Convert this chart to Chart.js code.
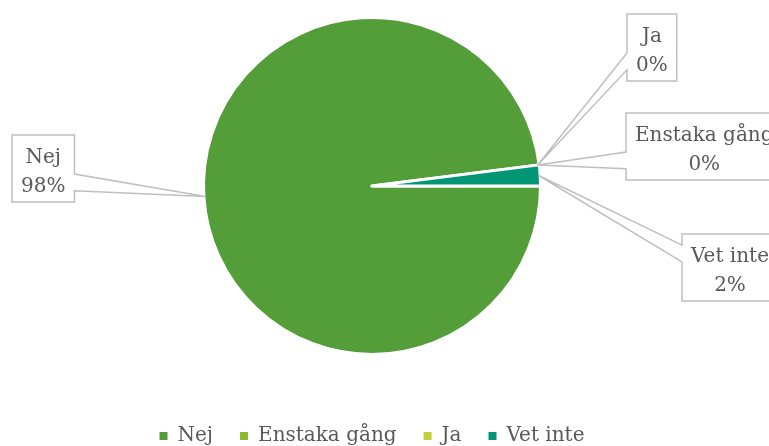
<!DOCTYPE html>
<html>
<head>
<meta charset="utf-8">
<script src="https://cdn.jsdelivr.net/npm/chart.js@4.4.1/dist/chart.umd.min.js"></script>
<style>
  html, body { margin: 0; padding: 0; background: #ffffff; }
  #wrap { width: 769px; height: 446px; }
</style>
</head>
<body>
<div id="wrap"><canvas id="pie-canvas"></canvas></div>
<script>
const categories = ['Nej', 'Enstaka gång', 'Ja', 'Vet inte'];
const shares = [98, 0, 0, 2];
const sliceColors = ['#549e39', '#8ab833', '#c0cf3a', '#029676'];

const textColor = '#595959';
const fontFamily = '"DejaVu Serif", "Liberation Serif", serif';
const fontSize = 20;

// callout boxes (top-left corners), same order as categories
const calloutBoxes = [
  { x: 12, y: 135 },
  { x: 626, y: 113 },
  { x: 627, y: 14 },
  { x: 682, y: 234 }
];

// Draws the Excel style callouts (box + wedge pointing at the slice)
const calloutPlugin = {
  id: 'callouts',
  afterDatasetsDraw(chart) {
    const { ctx } = chart;
    const meta = chart.getDatasetMeta(0);
    const total = shares.reduce((a, b) => a + b, 0);
    ctx.save();
    ctx.font = fontSize + 'px ' + fontFamily;

    meta.data.forEach((arc, i) => {
      const { x, y, startAngle, endAngle, outerRadius } = arc.getProps(['x', 'y', 'startAngle', 'endAngle', 'outerRadius'], true);
      const mid = (startAngle + endAngle) / 2;
      const tipX = x + Math.cos(mid) * (outerRadius - 1.5);
      const tipY = y + Math.sin(mid) * (outerRadius - 1.5);

      const lines = [categories[i], Math.round(shares[i] / total * 100) + '%'];
      const textW = Math.max(...lines.map(l => ctx.measureText(l).width));
      const w = textW + 18;
      const h = 67;
      const l = calloutBoxes[i].x, t = calloutBoxes[i].y;
      const r = l + w, b = t + h;

      // wedgeRectCallout geometry
      const dx = tipX - (l + w / 2);
      const dy = tipY - (t + h / 2);
      const dq = dx * h / w;
      const vertical = Math.abs(dy) - Math.abs(dq) > 0;
      const y1 = t + h * (dy > 0 ? 7 : 2) / 12;
      const y2 = t + h * (dy > 0 ? 10 : 5) / 12;
      const x1 = l + w * (dx > 0 ? 7 : 2) / 12;
      const x2 = l + w * (dx > 0 ? 10 : 5) / 12;

      ctx.beginPath();
      ctx.moveTo(l, t);
      if (vertical && dy < 0) { ctx.lineTo(x1, t); ctx.lineTo(tipX, tipY); ctx.lineTo(x2, t); }
      ctx.lineTo(r, t);
      if (!vertical && dx > 0) { ctx.lineTo(r, y1); ctx.lineTo(tipX, tipY); ctx.lineTo(r, y2); }
      ctx.lineTo(r, b);
      if (vertical && dy > 0) { ctx.lineTo(x2, b); ctx.lineTo(tipX, tipY); ctx.lineTo(x1, b); }
      ctx.lineTo(l, b);
      if (!vertical && dx < 0) { ctx.lineTo(l, y2); ctx.lineTo(tipX, tipY); ctx.lineTo(l, y1); }
      ctx.closePath();
      ctx.fillStyle = '#ffffff';
      ctx.fill();
      ctx.strokeStyle = '#bfbfbf';
      ctx.lineWidth = 1.5;
      ctx.stroke();

      ctx.fillStyle = textColor;
      ctx.textAlign = 'center';
      ctx.textBaseline = 'alphabetic';
      ctx.fillText(lines[0], l + w / 2, t + 28);
      ctx.fillText(lines[1], l + w / 2, t + 57);
    });
    ctx.restore();
  }
};

const ctx = document.getElementById('pie-canvas');

const pieChart = new Chart(ctx, {
  type: 'pie',
  data: {
    labels: categories,
    datasets: [{
      data: shares,
      backgroundColor: sliceColors,
      borderColor: '#ffffff',
      borderWidth: 3,
      borderJoinStyle: 'round',
      hoverOffset: 0,
      radius: 168.5
    }]
  },
  options: {
    responsive: true,
    maintainAspectRatio: false,
    devicePixelRatio: 1,
    animation: false,
    rotation: 90,
    layout: {
      padding: { top: 20, left: 0, right: 25, bottom: -10 }
    },
    plugins: {
      tooltip: { enabled: false },
      legend: {
        position: 'bottom',
        // empty title only used as spacer so the pie keeps its place
        title: {
          display: true,
          text: ' ',
          font: { size: 10 },
          padding: { top: 35, bottom: 0 }
        },
        labels: {
          color: textColor,
          boxWidth: 8,
          boxHeight: 8,
          padding: 27,
          font: { family: fontFamily, size: fontSize },
          generateLabels: (chart) => {
            const items = Chart.overrides.pie.plugins.legend.labels.generateLabels(chart);
            return items.map(item => Object.assign(item, { lineWidth: 0, strokeStyle: 'rgba(0,0,0,0)' }));
          }
        }
      }
    }
  },
  plugins: [calloutPlugin]
});
</script>
</body>
</html>
